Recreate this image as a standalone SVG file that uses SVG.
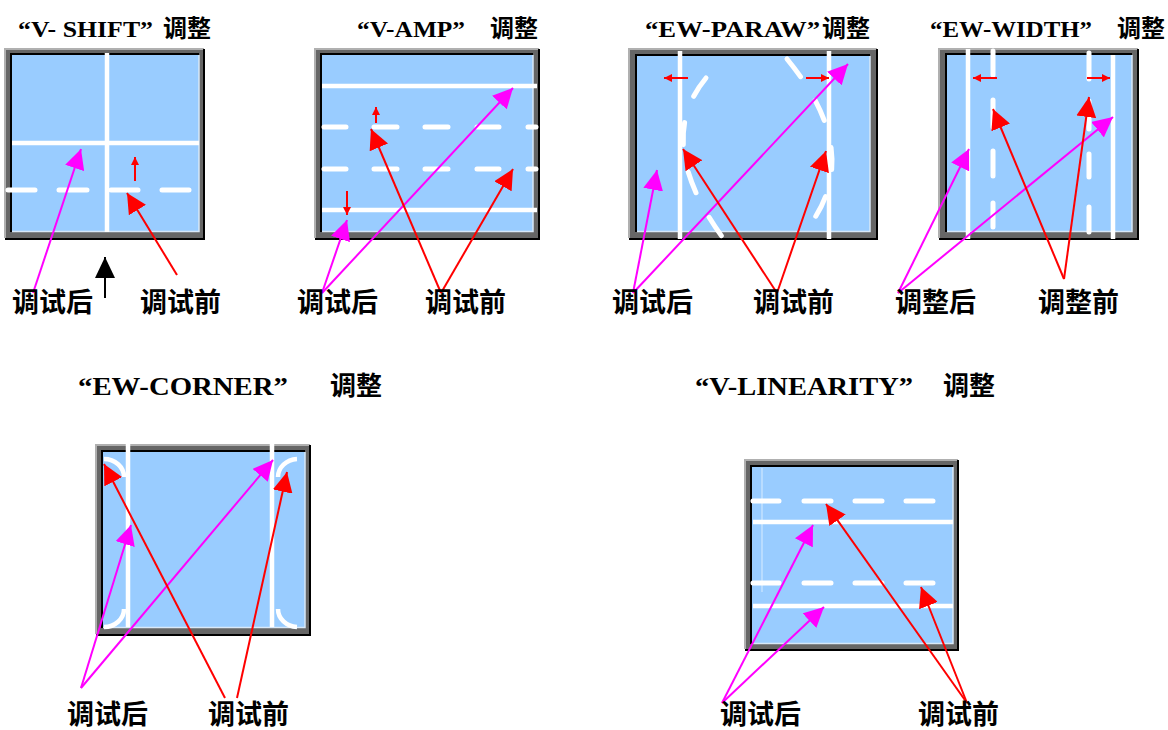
<svg xmlns="http://www.w3.org/2000/svg" width="1168" height="730" viewBox="0 0 1168 730">
<style>
.bg{fill:#ffffff}
.fo{fill:#666666}
.lt{fill:none;stroke:#b0b0b0;stroke-width:2}
.dk{fill:none;stroke:#000000;stroke-width:2}
.ib{fill:#000000}
.sc{fill:#99ccff}
.hl{fill:none;stroke:#d8e8f8;stroke-width:1.5}
.w{fill:none;stroke:#ffffff;stroke-width:4.5}
.wd{fill:none;stroke:#ffffff;stroke-width:5;stroke-linecap:round}
.mg{fill:none;stroke:#ff00ff;stroke-width:2}
.rd{fill:none;stroke:#ff0000;stroke-width:2}
.bk{fill:none;stroke:#000000;stroke-width:2}
.tl{font-family:"Liberation Serif","Noto Sans CJK SC",serif;font-weight:bold;fill:#000}
.tc{font-family:"Noto Sans CJK SC",sans-serif;font-weight:bold;fill:#000}
.lb{font-family:"Noto Sans CJK SC",sans-serif;font-size:27px;font-weight:bold;fill:#000}
</style>
<defs>
<marker id="hm" markerUnits="userSpaceOnUse" markerWidth="20" markerHeight="20" refX="20" refY="10" orient="auto"><path d="M0,0 L20,10 L0,20 z" fill="#ff00ff"/></marker>
<marker id="hr" markerUnits="userSpaceOnUse" markerWidth="20" markerHeight="20" refX="20" refY="10" orient="auto"><path d="M0,0 L20,10 L0,20 z" fill="#ff0000"/></marker>
<marker id="hk" markerUnits="userSpaceOnUse" markerWidth="21" markerHeight="20" refX="21" refY="10" orient="auto"><path d="M0,0 L21,10 L0,20 z" fill="#000000"/></marker>
<marker id="hs" markerUnits="userSpaceOnUse" markerWidth="8" markerHeight="8" refX="8" refY="4" orient="auto"><path d="M0,0 L8,4 L0,8 z" fill="#ff0000"/></marker>
</defs>
<rect class="bg" x="0" y="0" width="1168" height="730"/>

<g id="panel-v-shift">
<text class="tl" x="18" y="37" font-size="24" textLength="135" lengthAdjust="spacingAndGlyphs">“V- SHIFT”</text>
<text class="tc" x="163" y="37" font-size="24">调整</text>
<rect class="fo" x="5" y="49" width="199" height="190"/>
<path class="lt" d="M5,238 V49 H204"/>
<path class="dk" d="M5,239 H204 V49"/>
<rect class="ib" x="10" y="53" width="189" height="179"/>
<rect class="sc" x="12" y="55" width="187" height="177"/>
<path class="hl" d="M12,231.5 H199 V55"/>
<path class="w" d="M107,53 V232" stroke-width="5"/>
<path class="w" d="M12,143 H199" stroke-width="5"/>
<path class="wd" d="M8,190 H35 M59,190 H87 M111,190 H138 M162,190 H189"/>
</g>

<g id="panel-v-amp">
<text class="tl" x="357" y="37" font-size="24" textLength="108" lengthAdjust="spacingAndGlyphs">“V-AMP”</text>
<text class="tc" x="490" y="37" font-size="24">调整</text>
<rect class="fo" x="315" y="49" width="224" height="190"/>
<path class="lt" d="M315,238 V49 H539"/>
<path class="dk" d="M315,239 H539 V49"/>
<rect class="ib" x="320" y="53" width="213" height="179"/>
<rect class="sc" x="322" y="55" width="211" height="177"/>
<path class="hl" d="M322,231.5 H533 V55"/>
<path class="w" d="M322,86 H537"/>
<path class="w" d="M322,210 H537"/>
<path class="wd" d="M324,127 H346 M374,127 H397 M425,127 H448 M477,127 H499 M528,127 H536"/>
<path class="wd" d="M324,169 H346 M374,169 H397 M425,169 H448 M477,169 H499 M528,169 H536"/>
</g>

<g id="panel-ew-paraw">
<text class="tl" x="645" y="37" font-size="24" textLength="175" lengthAdjust="spacingAndGlyphs">“EW-PARAW”</text>
<text class="tc" x="822" y="37" font-size="24">调整</text>
<rect class="fo" x="629" y="49" width="248" height="190"/>
<path class="lt" d="M629,238 V49 H877"/>
<path class="dk" d="M629,239 H877 V49"/>
<rect class="ib" x="635" y="54" width="235" height="178"/>
<rect class="sc" x="637" y="56" width="233" height="176"/>
<path class="hl" d="M637,231.5 H870 V56"/>
<path class="w" d="M680,51 V239"/>
<path class="w" d="M829,51 V239"/>
<path class="wd" d="M706,78 Q653,142 723,238" stroke-dasharray="22 28"/>
<path class="wd" d="M787,59 Q862,150 812,222" stroke-dasharray="22 28"/>
</g>

<g id="panel-ew-width">
<text class="tl" x="930" y="37" font-size="24" textLength="162" lengthAdjust="spacingAndGlyphs">“EW-WIDTH”</text>
<text class="tc" x="1117" y="37" font-size="24">调整</text>
<rect class="fo" x="939" y="49" width="199" height="190"/>
<path class="lt" d="M939,238 V49 H1138"/>
<path class="dk" d="M939,239 H1138 V49"/>
<rect class="ib" x="945" y="53" width="187" height="179"/>
<rect class="sc" x="947" y="55" width="185" height="177"/>
<path class="hl" d="M947,231.5 H1132 V55"/>
<path class="w" d="M968,49 V239"/>
<path class="w" d="M1113,55 V239"/>
<path class="wd" d="M993,51 V75 M993,100 V127 M993,151 V176 M993,203 V227" stroke-width="4.5"/>
<path class="wd" d="M1089,53 V79 M1089,101 V129 M1089,154 V177 M1089,207 V232" stroke-width="4.5"/>
</g>

<g id="panel-ew-corner">
<text class="tl" x="78" y="395" font-size="26" textLength="210" lengthAdjust="spacingAndGlyphs">“EW-CORNER”</text>
<text class="tc" x="330" y="395" font-size="26">调整</text>
<rect class="fo" x="96" y="445" width="214" height="190"/>
<path class="lt" d="M96,634 V445 H310"/>
<path class="dk" d="M96,635 H310 V445"/>
<rect class="ib" x="101" y="450" width="204" height="178"/>
<rect class="sc" x="103" y="452" width="202" height="176"/>
<path class="hl" d="M103,627.5 H305 V452"/>
<path class="w" d="M128,443 V627"/>
<path class="w" d="M272,443 V627"/>
<path class="w" d="M104,459 A20,18 0 0 1 124,477"/>
<path class="w" d="M104,627 A20,18 0 0 0 124,609"/>
<path class="w" d="M297,459 A20,18 0 0 0 278,477"/>
<path class="w" d="M297,627 A20,18 0 0 1 278,609"/>
</g>

<g id="panel-v-linearity">
<text class="tl" x="695" y="395" font-size="26" textLength="218" lengthAdjust="spacingAndGlyphs">“V-LINEARITY”</text>
<text class="tc" x="943" y="395" font-size="26">调整</text>
<rect class="fo" x="745" y="460" width="213" height="190"/>
<path class="lt" d="M745,649 V460 H958"/>
<path class="dk" d="M745,650 H958 V460"/>
<rect class="ib" x="750" y="465" width="203" height="179"/>
<rect class="sc" x="752" y="467" width="201" height="177"/>
<path class="hl" d="M752,643.5 H953 V467"/>
<path d="M762,468 V592" stroke="#d8ecff" stroke-width="1" fill="none"/>
<path class="w" d="M753,522 H953"/>
<path class="w" d="M753,606 H953"/>
<path class="wd" d="M753,501 H779 M804,501 H831 M855,501 H882 M906,501 H933"/>
<path class="wd" d="M753,583 H779 M804,583 H831 M855,583 H882 M906,583 H933"/>
</g>

<g id="connectors">
<path class="mg" d="M33,293 L81,149" marker-end="url(#hm)"/>
<path class="rd" d="M177,275 L127,193" marker-end="url(#hr)"/>
<path class="bk" d="M105,298 L105,257" marker-end="url(#hk)"/>
<path class="rd" d="M135,181 L135,157" marker-end="url(#hs)"/>

<path class="mg" d="M322,293 L347,220" marker-end="url(#hm)"/>
<path class="mg" d="M322,293 L513,88" marker-end="url(#hm)"/>
<path class="rd" d="M441,293 L371,129" marker-end="url(#hr)"/>
<path class="rd" d="M441,293 L513,169" marker-end="url(#hr)"/>
<path class="rd" d="M376,123 L376,107" marker-end="url(#hs)"/>
<path class="rd" d="M347,191 L347,215" marker-end="url(#hs)"/>

<path class="mg" d="M633,293 L657,170" marker-end="url(#hm)"/>
<path class="mg" d="M633,293 L848,64" marker-end="url(#hm)"/>
<path class="rd" d="M777,293 L683,149" marker-end="url(#hr)"/>
<path class="rd" d="M777,293 L826,151" marker-end="url(#hr)"/>
<path class="rd" d="M688,78 L664,78" marker-end="url(#hs)"/>
<path class="rd" d="M806,78 L829,78" marker-end="url(#hs)"/>

<path class="mg" d="M898,293 L969,149" marker-end="url(#hm)"/>
<path class="mg" d="M898,293 L1113,117" marker-end="url(#hm)"/>
<path class="rd" d="M1064,279 L993,109" marker-end="url(#hr)"/>
<path class="rd" d="M1064,279 L1089,97" marker-end="url(#hr)"/>
<path class="rd" d="M997,78 L973,78" marker-end="url(#hs)"/>
<path class="rd" d="M1087,78 L1110,78" marker-end="url(#hs)"/>

<path class="mg" d="M81,688 L131,525" marker-end="url(#hm)"/>
<path class="mg" d="M81,688 L273,460" marker-end="url(#hm)"/>
<path class="rd" d="M225,698 L104,464" marker-end="url(#hr)"/>
<path class="rd" d="M237,698 L287,472" marker-end="url(#hr)"/>

<path class="mg" d="M722,703 L813,525" marker-end="url(#hm)"/>
<path class="mg" d="M722,703 L824,607" marker-end="url(#hm)"/>
<path class="rd" d="M967,703 L826,504" marker-end="url(#hr)"/>
<path class="rd" d="M967,703 L921,587" marker-end="url(#hr)"/>
</g>

<g id="labels">
<text class="lb" x="12" y="312">调试后</text>
<text class="lb" x="140" y="312">调试前</text>
<text class="lb" x="297" y="312">调试后</text>
<text class="lb" x="425" y="312">调试前</text>
<text class="lb" x="612" y="312">调试后</text>
<text class="lb" x="753" y="312">调试前</text>
<text class="lb" x="895" y="312">调整后</text>
<text class="lb" x="1038" y="312">调整前</text>
<text class="lb" x="67" y="724">调试后</text>
<text class="lb" x="208" y="724">调试前</text>
<text class="lb" x="720" y="724">调试后</text>
<text class="lb" x="918" y="724">调试前</text>
</g>
</svg>
